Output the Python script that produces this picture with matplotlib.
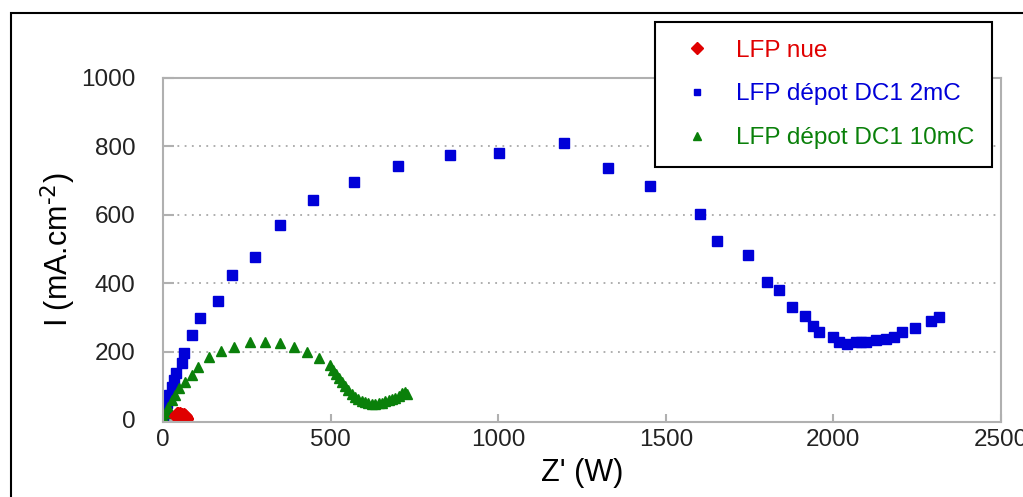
import matplotlib.pyplot as plt
from matplotlib.patches import Rectangle

# LFP nue (red diamonds)
nue_x = [38, 42, 46, 50, 54, 58, 62, 66, 69, 68, 64, 60, 56, 52, 48, 44]
nue_y = [12, 16, 18, 16, 13, 14, 14, 11, 7, 2, -1, -3, -1, 2, 5, 8]

# LFP depot DC1 2mC (blue squares)
dc2_x = [0, 6, 11, 19, 26, 33, 39, 56, 63, 86, 110, 163, 206, 275, 348, 448,
         569, 702, 857, 1001, 1195, 1327, 1454, 1601, 1652, 1745, 1801, 1838,
         1875, 1916, 1938, 1958, 2000, 2016, 2041, 2066, 2081, 2096, 2127,
         2158, 2180, 2206, 2244, 2290, 2315]
dc2_y = [0, 24, 49, 73, 97, 117, 136, 166, 197, 248, 297, 347, 425, 477, 571,
         644, 696, 743, 775, 780, 811, 738, 685, 601, 522, 482, 404, 379, 331,
         305, 274, 258, 243, 227, 221, 227, 227, 227, 233, 236, 242, 258, 269,
         289, 300]

# LFP depot DC1 10mC (green triangles)
dc10_x = [3, 8, 16, 26, 36, 49, 66, 86, 105, 137, 173, 213, 260, 304, 349,
          391, 429, 464, 497, 507, 516, 525, 533, 543, 553, 563, 573, 583,
          593, 603, 613, 623, 633, 643, 653, 663, 673, 683, 693, 703, 713,
          723, 728]
dc10_y = [2, 19, 39, 58, 73, 92, 112, 131, 154, 183, 202, 214, 229, 229, 224,
          214, 199, 182, 160, 147, 134, 122, 112, 100, 88, 77, 68, 61, 56, 52,
          50, 48, 48, 49, 51, 54, 57, 61, 65, 70, 78, 83, 76]

labels = ['LFP nue', 'LFP dépot DC1 2mC', 'LFP dépot DC1 10mC']
colors = ['#e00000', '#0000d8', '#0a800a']

plt.rcParams['font.family'] = ['Liberation Sans', 'DejaVu Sans']

fig = plt.figure(figsize=(10.23, 4.97), dpi=100)
ax = fig.add_axes([163 / 1023, 1 - 422 / 497, 838 / 1023, 344 / 497])

h2, = ax.plot(dc2_x, dc2_y, 's', color=colors[1], markersize=6.5, linestyle='none')
h10, = ax.plot(dc10_x, dc10_y, '^', color=colors[2], markersize=7.5, linestyle='none')
hn, = ax.plot(nue_x, nue_y, 'D', color=colors[0], markersize=7.5, linestyle='none')

ax.set_xlim(0, 2500)
ax.set_ylim(-6, 1000)
ax.set_xticks([0, 500, 1000, 1500, 2000, 2500])
ax.set_yticks([0, 200, 400, 600, 800, 1000])

for y in [200, 400, 600, 800]:
    ax.axhline(y, color='#a8a8a8', linestyle=(0, (1, 3)), linewidth=1.3, zorder=0)

for s in ax.spines.values():
    s.set_color('#b0b0b0')
    s.set_linewidth(1.5)

ax.tick_params(axis='both', direction='in', color='#b0b0b0', width=1.5,
               labelsize=17.5, labelcolor='#222222')
ax.tick_params(axis='x', length=6, pad=5)
ax.tick_params(axis='y', length=8, pad=20)

ax.set_xlabel("Z' (W)", fontsize=22, labelpad=5)
ax.set_ylabel('I (mA.cm$^{\\text{-}2}$)', fontsize=22, labelpad=2)

leg = ax.legend([hn, h2, h10], labels, loc='upper left',
                bbox_to_anchor=(655 / 1023, 1 - 22 / 497),
                bbox_transform=fig.transFigure, fontsize=17.5,
                frameon=True, fancybox=False, framealpha=1,
                edgecolor='black', labelspacing=0.9, handletextpad=0.6,
                handlelength=2.0, borderpad=0.72, borderaxespad=0,
                markerscale=0.75)
leg.get_frame().set_linewidth(1.5)
for txt, c in zip(leg.get_texts(), colors):
    txt.set_color(c)

# outer frame of the picture
fig.patches.append(Rectangle((11 / 1023, -0.1), 1.2, 1.1 - 13 / 497,
                             transform=fig.transFigure, fill=False,
                             edgecolor='black', linewidth=1.5))

fig.savefig('out.png', dpi=100)
